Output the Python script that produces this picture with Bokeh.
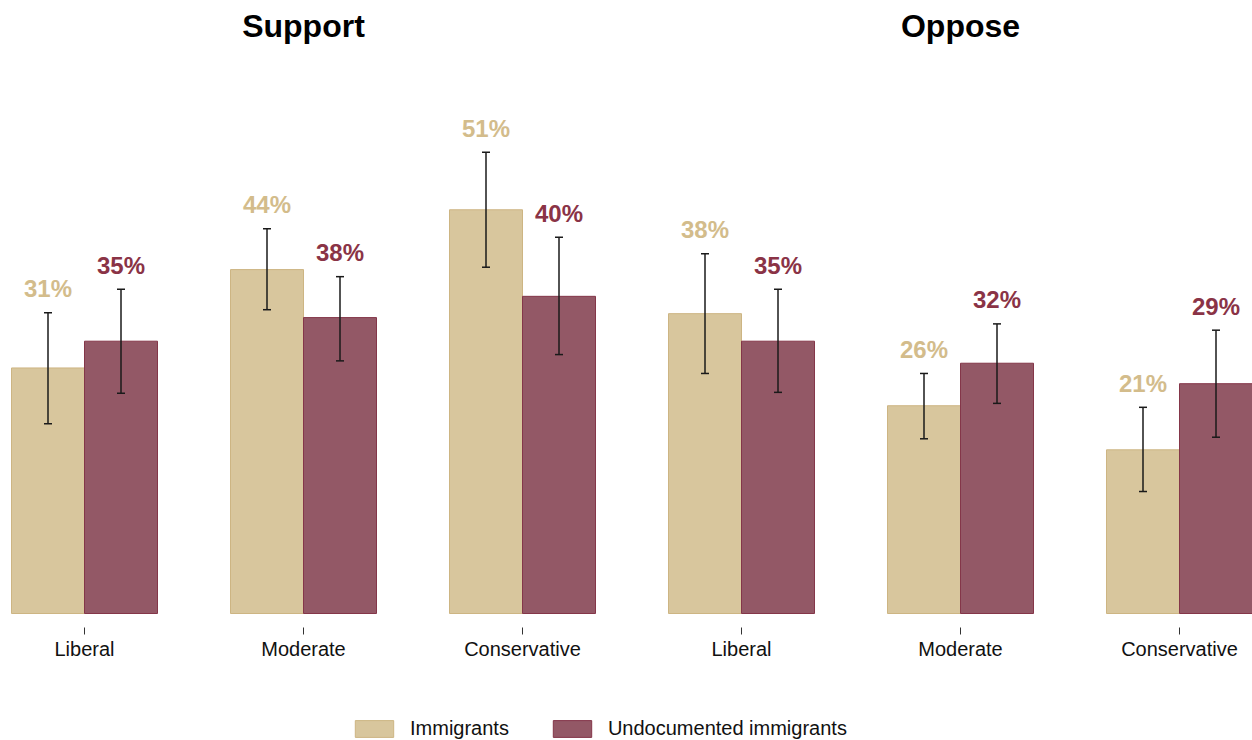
from bokeh.plotting import figure
from bokeh.layouts import column
from bokeh.models import (ColumnDataSource, Range1d, FixedTicker, Whisker, TeeHead,
                          Legend, LegendItem)
from bokeh.core.properties import value
from bokeh.embed import file_html
from bokeh.resources import INLINE

# ---- data ----
panels = ["Support", "Oppose"]
groups = ["Liberal", "Moderate", "Conservative", "Liberal", "Moderate", "Conservative"]
series = ["Immigrants", "Undocumented immigrants"]
imm = [31.2, 43.7, 51.3, 38.1, 26.4, 20.8]
imm_lo = [24.1, 38.6, 44.0, 30.5, 22.2, 15.5]
imm_hi = [38.2, 48.9, 58.6, 45.7, 30.5, 26.2]
und = [34.6, 37.6, 40.3, 34.6, 31.8, 29.2]
und_lo = [28.0, 32.1, 32.9, 28.1, 26.7, 22.4]
und_hi = [41.2, 42.8, 47.8, 41.2, 36.8, 36.0]

IMM_FILL, IMM_LINE, IMM_TEXT = "#D8C69D", "#CDB583", "#D3BC8B"
UND_FILL, UND_LINE, UND_TEXT = "#935866", "#843649", "#8A3346"
FONT = "Liberation Sans"
PX = 7.87  # pixels per percentage point

idx = list(range(len(groups)))
bw = 1 / 3
src_i = ColumnDataSource(dict(x=[i - bw / 2 for i in idx], top=imm, lo=imm_lo, hi=imm_hi,
                              lab=[f"{round(v)}%" for v in imm]))
src_u = ColumnDataSource(dict(x=[i + bw / 2 for i in idx], top=und, lo=und_lo, hi=und_hi,
                              lab=[f"{round(v)}%" for v in und]))

p = figure(width=1252, height=690, output_backend="svg", toolbar_location=None,
           x_range=Range1d(-84 / 219, -84 / 219 + 1252 / 219),
           y_range=Range1d(-14 / PX, 613 / PX),
           min_border_left=0, min_border_right=0, min_border_top=0, min_border_bottom=63,
           y_axis_location=None)
p.outline_line_color = None
p.xgrid.visible = False
p.ygrid.visible = False

r_i = p.vbar(x="x", top="top", bottom=0, width=bw, source=src_i,
             fill_color=IMM_FILL, line_color=IMM_LINE, line_width=1)
r_u = p.vbar(x="x", top="top", bottom=0, width=bw, source=src_u,
             fill_color=UND_FILL, line_color=UND_LINE, line_width=1)

for src in (src_i, src_u):
    w = Whisker(base="x", upper="hi", lower="lo", source=src, dimension="height",
                line_color="#1a1a1a", line_width=1.5, level="overlay",
                upper_head=TeeHead(size=8, line_color="#1a1a1a", line_width=1.5),
                lower_head=TeeHead(size=8, line_color="#1a1a1a", line_width=1.5))
    p.add_layout(w)

for src, col in ((src_i, IMM_TEXT), (src_u, UND_TEXT)):
    p.text(x="x", y="hi", text="lab", source=src, text_color=col,
           text_font=value(FONT), text_font_style="bold", text_font_size="24px",
           text_align="center", text_baseline="middle", y_offset=-24)

# panel titles centered over middle group of each panel
p.text(x=[1, 4], y=[(613 - 25) / PX] * 2, text=panels, text_color="black",
       text_font=value(FONT), text_font_style="bold", text_font_size="32px",
       text_align="center", text_baseline="middle")

ax = p.xaxis[0]
ax.ticker = FixedTicker(ticks=idx)
ax.major_label_overrides = {i: g for i, g in zip(idx, groups)}
ax.axis_line_color = None
ax.major_tick_in = 0
ax.major_tick_out = 7
ax.major_tick_line_color = "#333333"
ax.minor_tick_line_color = None
ax.major_label_standoff = 3
ax.major_label_text_font = FONT
ax.major_label_text_font_size = "20px"
ax.major_label_text_color = "#111111"

# legend strip below (its glyph renderers sit outside the strip's visible range)
q = figure(width=1252, height=50, output_backend="svg", toolbar_location=None,
           x_range=Range1d(0, 1), y_range=Range1d(0, 1),
           min_border_left=0, min_border_right=0, min_border_top=0, min_border_bottom=0,
           x_axis_location=None, y_axis_location=None)
q.outline_line_color = None
q.xgrid.visible = False
q.ygrid.visible = False
l_i = q.vbar(x=[imm[0]], top=[imm[0]], width=0.1,
             fill_color=IMM_FILL, line_color=IMM_LINE, line_width=1)
l_u = q.vbar(x=[und[0]], top=[und[0]], width=0.1,
             fill_color=UND_FILL, line_color=UND_LINE, line_width=1)
legend = Legend(items=[LegendItem(label=series[0], renderers=[l_i]),
                       LegendItem(label=series[1], renderers=[l_u])],
                orientation="horizontal", location=(350, 0),
                glyph_width=48, glyph_height=21, label_height=21, label_standoff=12,
                spacing=39, padding=0, margin=0, border_line_color=None,
                background_fill_alpha=0, label_text_font=FONT,
                label_text_font_size="20px", label_text_color="#111111",
                label_text_baseline="middle")
q.add_layout(legend)

open("out.html", "w").write(file_html(column(p, q, spacing=0), INLINE))
